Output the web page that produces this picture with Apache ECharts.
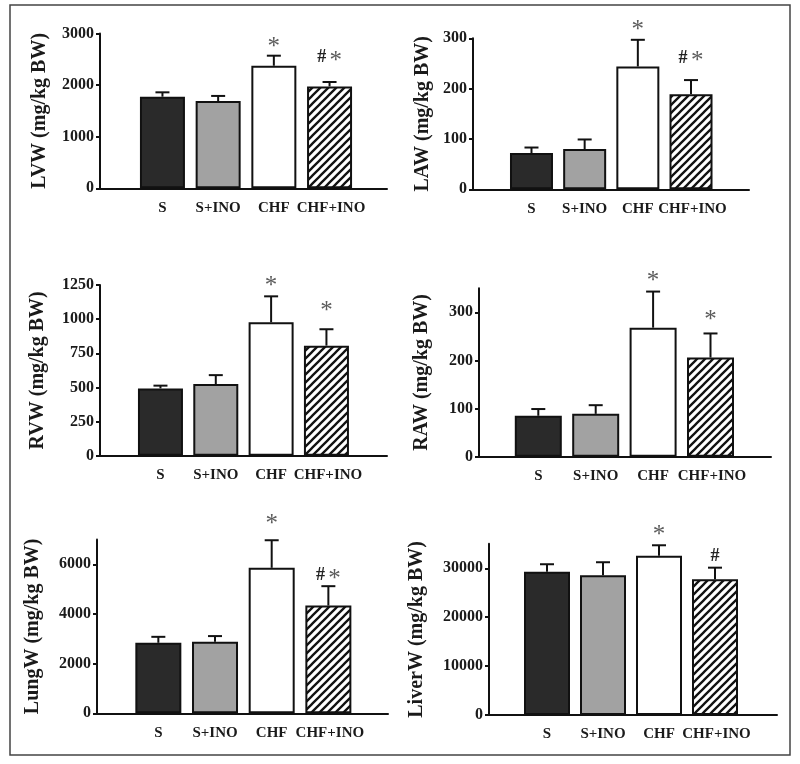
<!DOCTYPE html>
<html><head><meta charset="utf-8">
<script src="https://cdn.jsdelivr.net/npm/echarts@6/dist/echarts.min.js"></script>
<style>html,body{margin:0;padding:0;background:#fff}#c{width:800px;height:764px}</style>
</head><body><div id="c"></div>
<script>
// ---------- data ----------
const categories = ['S', 'S+INO', 'CHF', 'CHF+INO'];

const lvwMean = [1775, 1690, 2375, 1975];
const lvwSem  = [85, 100, 195, 85];
const lvwNote = ['', '', '*', '# *'];
const lvwNoteAt = [null, null, 2816, 2539];
const lvwTicks = [0, 1000, 2000, 3000];

const lawMean = [72, 80, 244, 189];
const lawSem  = [11, 19, 53, 28];
const lawNote = ['', '', '*', '# *'];
const lawNoteAt = [null, null, 323, 261];
const lawTicks = [0, 100, 200, 300];

const rvwMean = [493, 525, 977, 806];
const rvwSem  = [20, 65, 190, 120];
const rvwNote = ['', '', '*', '*'];
const rvwNoteAt = [null, null, 1272, 1089];
const rvwTicks = [0, 250, 500, 750, 1000, 1250];

const rawMean = [85, 89, 268, 206];
const rawSem  = [14, 18, 75, 50];
const rawNote = ['', '', '*', '*'];
const rawNoteAt = [null, null, 372, 291];
const rawTicks = [0, 100, 200, 300];

const lungMean = [2840, 2880, 5860, 4340];
const lungSem  = [240, 230, 1110, 780];
const lungNote = ['', '', '*', '# *'];
const lungNoteAt = [null, null, 7775, 5563];
const lungTicks = [0, 2000, 4000, 6000];

const liverMean = [29300, 28570, 32580, 27750];
const liverSem  = [1520, 2660, 2120, 2370];
const liverNote = ['', '', '*', '#'];
const liverNoteAt = [null, null, 37480, 32370];
const liverTicks = [0, 10000, 20000, 30000];

// ---------- styling ----------
const FONT = 'Liberation Serif';
function hatch() {
  const s = 8, c = document.createElement('canvas');
  c.width = s; c.height = s;
  const g = c.getContext('2d');
  g.fillStyle = '#fff'; g.fillRect(0, 0, s, s);
  g.strokeStyle = '#111'; g.lineWidth = 2.3;
  g.beginPath();
  g.moveTo(0, s); g.lineTo(s, 0);
  g.moveTo(-2, 2); g.lineTo(2, -2);
  g.moveTo(s - 2, s + 2); g.lineTo(s + 2, s - 2);
  g.stroke();
  return c;
}
const fills = ['#2a2a2a', '#a2a2a2', '#ffffff', { image: hatch(), repeat: 'repeat' }];

const panels = [
  { name: 'LVW (mg/kg BW)', mean: lvwMean, sem: lvwSem, note: lvwNote, noteAt: lvwNoteAt, ticks: lvwTicks, max: 3000,
    axisX: 100, axisEnd: 387, bandL: 134.6, bandW: 222.8, top: 33.5, bottom: 188.3, barW: 45, gap: 50 },
  { name: 'LAW (mg/kg BW)', mean: lawMean, sem: lawSem, note: lawNote, noteAt: lawNoteAt, ticks: lawTicks, max: 300,
    axisX: 473, axisEnd: 749, bandL: 504.9, bandW: 212.7, top: 38.3, bottom: 189.3, barW: 43, gap: 40 },
  { name: 'RVW (mg/kg BW)', mean: rvwMean, sem: rvwSem, note: rvwNote, noteAt: rvwNoteAt, ticks: rvwTicks, max: 1250,
    axisX: 100, axisEnd: 387, bandL: 132.8, bandW: 221.3, top: 285, bottom: 455.7, barW: 45, gap: 52 },
  { name: 'RAW (mg/kg BW)', mean: rawMean, sem: rawSem, note: rawNote, noteAt: rawNoteAt, ticks: rawTicks, max: 350,
    axisX: 479, axisEnd: 771, bandL: 509.6, bandW: 229.6, top: 288.2, bottom: 456.7, barW: 47, gap: 47 },
  { name: 'LungW (mg/kg BW)', mean: lungMean, sem: lungSem, note: lungNote, noteAt: lungNoteAt, ticks: lungTicks, max: 7000,
    axisX: 97, axisEnd: 388, bandL: 130, bandW: 226.7, top: 539.5, bottom: 713.3, barW: 46, gap: 54 },
  { name: 'LiverW (mg/kg BW)', mean: liverMean, sem: liverSem, note: liverNote, noteAt: liverNoteAt, ticks: liverTicks, max: 35000,
    axisX: 489, axisEnd: 777, bandL: 519, bandW: 224, top: 543.8, bottom: 715, barW: 46, gap: 62 }
];

const grid = [], xAxis = [], yAxis = [], series = [];
panels.forEach((p, k) => {
  const h = p.bottom - p.top;
  grid.push({ left: p.axisX, top: p.top, width: p.axisEnd - p.axisX, height: h });
  grid.push({ left: p.bandL, top: p.top, width: p.bandW, height: h });
  const ga = 2 * k, gb = 2 * k + 1;
  xAxis.push({ gridIndex: ga, type: 'value', min: 0, max: 1,
    axisLine: { show: true, onZero: false, lineStyle: { color: '#111', width: 2 } },
    axisTick: { show: false }, axisLabel: { show: false }, splitLine: { show: false } });
  xAxis.push({ gridIndex: gb, type: 'category', data: categories,
    axisLine: { show: false }, axisTick: { show: false },
    axisLabel: { margin: 12, fontFamily: FONT, fontWeight: 'bold', fontSize: 15, color: '#1a1a1a', interval: 0,
      formatter: (v) => v === 'CHF+INO' ? '\u2009' + v : v } });
  yAxis.push({ gridIndex: ga, type: 'value', min: 0, max: p.max,
    name: p.name, nameLocation: 'middle', nameGap: p.gap,
    nameTextStyle: { fontFamily: FONT, fontWeight: 'bold', fontSize: 20, color: '#1a1a1a' },
    axisLine: { show: true, onZero: false, lineStyle: { color: '#111', width: 2 } },
    axisTick: { show: true, length: 4, customValues: p.ticks, lineStyle: { color: '#111', width: 2 } },
    axisLabel: { margin: 6, customValues: p.ticks, formatter: v => String(v),
      fontFamily: FONT, fontWeight: 'bold', fontSize: 16, color: '#1a1a1a' },
    splitLine: { show: false } });
  yAxis.push({ gridIndex: gb, type: 'value', min: 0, max: p.max, show: false, splitLine: { show: false } });

  series.push({
    type: 'bar', xAxisIndex: gb, yAxisIndex: gb, barWidth: p.barW,
    data: p.mean.map((v, i) => ({ value: v, itemStyle: { color: fills[i] } })),
    itemStyle: { borderColor: '#111', borderWidth: 2 },
    emphasis: { disabled: true }, animation: false, z: 2
  });
  series.push({
    type: 'custom', xAxisIndex: gb, yAxisIndex: gb, animation: false, clip: false, z: 3,
    data: p.mean.map((v, i) => [i, v, v + p.sem[i]]),
    renderItem: function (params, api) {
      const i = api.value(0);
      const a = api.coord([i, api.value(1)]);
      const b = api.coord([i, api.value(2)]);
      const w = 7;
      return { type: 'group', children: [
        { type: 'line', shape: { x1: a[0], y1: a[1], x2: b[0], y2: b[1] }, style: { stroke: '#111', lineWidth: 2 } },
        { type: 'line', shape: { x1: b[0] - w, y1: b[1], x2: b[0] + w, y2: b[1] }, style: { stroke: '#111', lineWidth: 2 } }
      ]};
    }
  });
  const notes = [];
  p.note.forEach((t, i) => { if (t) notes.push({ i: i, t: t, y: p.noteAt[i] }); });
  series.push({
    type: 'custom', xAxisIndex: gb, yAxisIndex: gb, animation: false, clip: false, z: 4,
    data: notes.map(n => [n.i, n.y]),
    renderItem: function (params, api) {
      const n = notes[params.dataIndex];
      const c = api.coord([api.value(0), api.value(1)]);
      const txt = n.t.replace(/#/g, '{h|#}').replace(/\*/g, '{s|*}');
      return { type: 'text', x: c[0], y: c[1],
        style: { text: txt, textAlign: 'center', textVerticalAlign: 'middle',
          rich: {
            h: { fontFamily: FONT, fontSize: 18, fontWeight: 'bold', fill: '#222', color: '#222' },
            s: { fontFamily: FONT, fontSize: 25, fill: '#5c5c5c', color: '#5c5c5c', padding: [8, 0, 0, 0] }
          } } };
    }
  });
});

const chart = echarts.init(document.getElementById('c'), null, { renderer: 'canvas' });
chart.setOption({
  backgroundColor: '#ffffff',
  animation: false,
  graphic: [{ type: 'rect', shape: { x: 10, y: 5, width: 780, height: 750 },
    style: { fill: 'none', stroke: '#444', lineWidth: 1.5 }, z: -10, silent: true }],
  grid: grid, xAxis: xAxis, yAxis: yAxis, series: series
});
</script></body></html>
